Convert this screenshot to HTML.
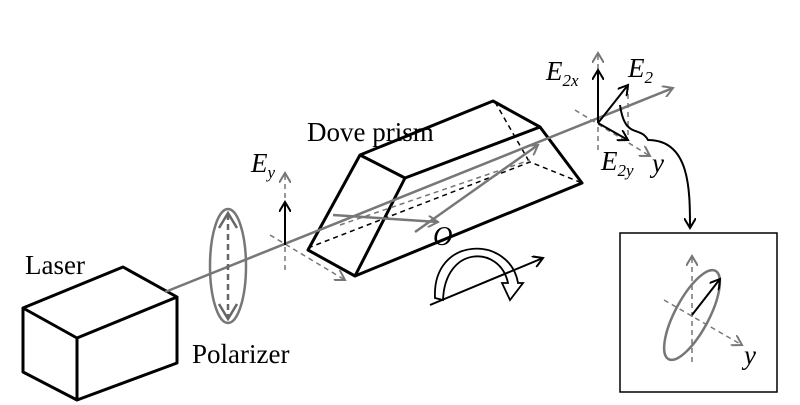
<!DOCTYPE html><html><head><style>body{margin:0;background:#fff}svg{display:block}text{font-family:"Liberation Serif",serif}</style></head><body>
<svg width="800" height="405" viewBox="0 0 800 405" xmlns="http://www.w3.org/2000/svg">
<defs>
<marker id="ag" markerWidth="12" markerHeight="12" refX="10" refY="6" orient="auto" markerUnits="userSpaceOnUse"><path d="M0,0 L10,6 L0,12" fill="none" stroke="#777" stroke-width="2"/></marker>
<marker id="ab" markerWidth="12" markerHeight="12" refX="10" refY="6" orient="auto" markerUnits="userSpaceOnUse"><path d="M0,0 L10,6 L0,12" fill="none" stroke="#000" stroke-width="2"/></marker>
</defs>
<g fill="none" stroke="#000" stroke-width="3" stroke-linejoin="round">
<path d="M23,308 L123,267 L177,297 L77,338 Z M77,338 L77,400 L177,363 L177,297 M23,308 L23,372 L77,400"/>
<path d="M360,155 L405,178 L355,276 L308,250 Z M360,155 L493,101 L540,127 L405,178 M540,127 L582,183 L355,276"/>
</g>
<g stroke="#000" stroke-width="1.5" stroke-dasharray="5,4" fill="none">
<path d="M495,102 L530,163 M308,248 L530,162 L582,183"/>
</g>
<g stroke="#777" stroke-width="2.5" fill="none">
<line x1="165" y1="292" x2="673" y2="88" marker-end="url(#ag)"/>
<ellipse cx="228" cy="266" rx="18" ry="57"/>
<line x1="333" y1="215" x2="438" y2="222" marker-end="url(#ag)"/>
<line x1="415" y1="232" x2="538" y2="145" marker-end="url(#ag)"/>
</g>
<g stroke="#777" stroke-width="1.5" stroke-dasharray="5,4" fill="none">
<line x1="285" y1="270" x2="285" y2="173" marker-end="url(#ag)"/>
<line x1="270" y1="235" x2="345" y2="280" marker-end="url(#ag)"/>
<line x1="340" y1="225" x2="530" y2="160"/>
<line x1="598" y1="150" x2="598" y2="53" marker-end="url(#ag)"/>
<line x1="575" y1="110" x2="650" y2="156" marker-end="url(#ag)"/>
<line x1="628" y1="85" x2="628" y2="140"/>
<line x1="692" y1="362" x2="692" y2="256" marker-end="url(#ag)"/>
<line x1="664" y1="300" x2="742" y2="345" marker-end="url(#ag)"/>
</g>
<line x1="228" y1="214" x2="228" y2="318" stroke="#666" stroke-width="2.5" stroke-dasharray="6,4"/>
<g stroke="#666" stroke-width="2.5" fill="none"><path d="M219,228 L228,213 L237,228 M219,304 L228,319 L237,304"/>
<ellipse cx="692" cy="315" rx="17" ry="50" transform="rotate(28 692 315)" stroke-width="2.5" stroke="#777"/></g>
<g stroke="#000" stroke-width="2" fill="none">
<line x1="285" y1="245" x2="285" y2="202" marker-end="url(#ab)"/>
<line x1="598" y1="123" x2="598" y2="70" marker-end="url(#ab)"/>
<line x1="598" y1="123" x2="628" y2="85" marker-end="url(#ab)"/>
<line x1="598" y1="123" x2="628" y2="140" marker-end="url(#ab)"/>
<path d="M620,105 C625,140 640,125 648,140 C690,140 690,190 690,228" marker-end="url(#ab)"/>
<line x1="692" y1="315" x2="720" y2="279" marker-end="url(#ab)"/>
<line x1="430" y1="305" x2="543" y2="258" marker-end="url(#ab)"/>
<path d="M443,300 C445,245 500,245 508,283 L502,283 L510,300 L523,283 L518,283 C510,235 432,235 435,298 Z" stroke-width="1.8"/>
</g>
<rect x="620" y="233" width="157" height="159" fill="none" stroke="#000" stroke-width="1.5"/>
<g font-size="27" fill="#000">
<text x="307" y="141">Dove prism</text>
<text x="25" y="274">Laser</text>
<text x="192" y="363">Polarizer</text>
<g font-style="italic">
<text x="251" y="172">E<tspan font-size="17" dy="6">y</tspan></text>
<text x="433" y="245">O</text>
<text x="546" y="80">E<tspan font-size="17" dy="6">2x</tspan></text>
<text x="628" y="77">E<tspan font-size="17" dy="6">2</tspan></text>
<text x="601" y="170">E<tspan font-size="17" dy="6">2y</tspan></text>
<text x="652" y="172">y</text>
<text x="744" y="364">y</text>
</g></g>
</svg></body></html>
